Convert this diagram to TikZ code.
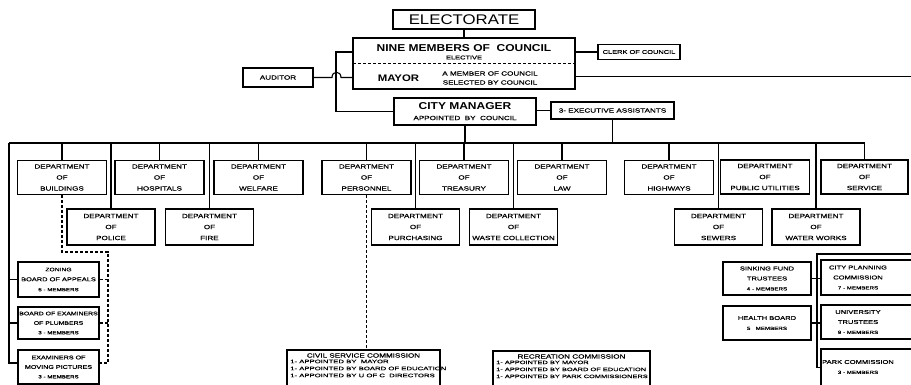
\documentclass[tikz,border=0pt]{standalone}
\usepackage{fontspec}
% hand-lettered look: widened sans capitals
\newfontfamily\lett[FakeStretch=1.35,FakeBold=0.6]{Liberation Sans}
\newfontfamily\lettw[FakeStretch=1.55,FakeBold=0.6]{Liberation Sans}
\newfontfamily\head[FakeStretch=1.2]{Liberation Sans}
\tikzset{
  box/.style={draw, line width=1.3pt, inner sep=0pt, align=center,
              font=\lett\fontsize{6}{11}\selectfont},
  dept/.style={box, minimum width=89pt, minimum height=34pt},
  deptlow/.style={box, minimum width=88pt, minimum height=36pt},
  board/.style={box, minimum width=81pt, font=\lett\fontsize{5.5}{10}\selectfont},
  rboard/.style={box, minimum width=88pt, font=\lett\fontsize{5.6}{10}\selectfont},
  txt/.style={inner sep=0pt, align=center, font=\lett\fontsize{6}{9}\selectfont},
  boldtxt/.style={inner sep=0pt, font=\head\bfseries\fontsize{10}{10}\selectfont},
  listtxt/.style={inner sep=0pt, align=left, anchor=north west,
                  font=\lettw\fontsize{4.8}{7}\selectfont},
  link/.style={line width=1.1pt},
  dlink/.style={line width=1.1pt, dash pattern=on 3pt off 2pt},
}
\begin{document}
\begin{tikzpicture}[x=1pt,y=-1pt]
\clip (0,0) rectangle (911,384);
\fill[white] (0,0) rectangle (911,384);

% ---- top of the chart ----
\node[box, minimum width=142pt, minimum height=19pt,
      font=\head\fontsize{14}{14}\selectfont] (electorate) at (464,19.5) {ELECTORATE};

\node[box, minimum width=222pt, minimum height=51pt] (council) at (464,63.5) {};
\node[boldtxt] (nine) at (464,48) {NINE MEMBERS OF\ \ COUNCIL};
\node[txt, font=\lett\fontsize{5.5}{6}\selectfont] (elective) at (464,57.5) {ELECTIVE};
\node[boldtxt, font=\head\bfseries\fontsize{9.5}{10}\selectfont] (mayor) at (398.5,78.5) {MAYOR};
\node[txt] (mayornote) at (490,78) {A MEMBER OF COUNCIL\\SELECTED BY COUNCIL};
\coordinate (divL) at (353,63.5);
\draw[dlink] (divL) -- (divL -| council.east);

\node[box, minimum width=82pt, minimum height=15pt,
      font=\lett\fontsize{5.5}{6}\selectfont] (clerk) at (639,52) {CLERK OF COUNCIL};
\node[box, minimum width=70pt, minimum height=19pt] (auditor) at (278,77.5) {AUDITOR};

\node[box, minimum width=142pt, minimum height=27pt] (manager) at (465,111.5) {};
\node[boldtxt] (managerhead) at (465,106) {CITY MANAGER};
\node[txt] (managernote) at (465,118) {APPOINTED\ \ BY\ \ COUNCIL};
\node[box, minimum width=123pt, minimum height=17pt] (exec) at (612.5,110.5) {3- EXECUTIVE ASSISTANTS};

\draw[link] (electorate.south) -- (council.north);
\draw[link] (council.east |- clerk.west) -- (clerk.west);
\coordinate (edgeR1) at (920,76.5);
\draw[link] (council.east |- edgeR1) -- (edgeR1);
\coordinate (cv) at (336,52);
\draw[link] (council.west |- cv) -- (cv) |- (manager.west);
\draw[link] (auditor.east) -- (332,77.5) .. controls (332,70.5) and (341,70.5) .. (341,77.5)
            -- (council.west |- auditor.east);
\draw[link] (manager.east |- exec.west) -- (exec.west);

% ---- departments ----
\node[dept] (buildings)  at (62,177.5)    {DEPARTMENT\\OF\\BUILDINGS};
\node[dept] (hospitals)  at (159.5,177.5) {DEPARTMENT\\OF\\HOSPITALS};
\node[dept] (welfare)    at (258.5,177.5) {DEPARTMENT\\OF\\WELFARE};
\node[dept] (personnel)  at (366.5,177.5) {DEPARTMENT\\OF\\PERSONNEL};
\node[dept] (treasury)   at (464,177.5)   {DEPARTMENT\\OF\\TREASURY};
\node[dept] (law)        at (562,177.5)   {DEPARTMENT\\OF\\LAW};
\node[dept] (highways)   at (669,177.5)   {DEPARTMENT\\OF\\HIGHWAYS};
\node[dept] (utilities)  at (765,177)     {DEPARTMENT\\OF\\PUBLIC UTILITIES};
\node[dept, minimum width=87pt] (service) at (864.5,177) {DEPARTMENT\\OF\\SERVICE};

\node[deptlow] (police)     at (111,227)   {DEPARTMENT\\OF\\POLICE};
\node[deptlow] (fire)       at (209.5,227) {DEPARTMENT\\OF\\FIRE};
\node[deptlow] (purchasing) at (415.5,227) {DEPARTMENT\\OF\\PURCHASING};
\node[deptlow] (waste)      at (513.5,227) {DEPARTMENT\\OF\\WASTE COLLECTION};
\node[deptlow] (sewers)     at (718.5,227) {DEPARTMENT\\OF\\SEWERS};
\node[deptlow] (waterworks) at (816,227)   {DEPARTMENT\\OF\\WATER WORKS};

\coordinate (busL) at (9,143);
\draw[link] (manager.south) -- (manager.south |- busL);
\draw[link] (exec.south) -- (exec.south |- busL);
\draw[link] (busL) -| (service.north);
\foreach \d in {buildings,hospitals,welfare,personnel,treasury,law,highways,
                police,fire,purchasing,waste,sewers,waterworks}
  \draw[link] (\d.north) -- (\d.north |- busL);

% ---- boards on the left ----
\node[board, minimum height=35pt] (zoning) at (58.5,279.5)
  {{\fontsize{5}{10}\selectfont ZONING}\\BOARD OF APPEALS\\{\fontsize{4.6}{10}\selectfont 5 - MEMBERS}};
\node[board, minimum height=32pt, font=\lett\fontsize{5.1}{9.5}\selectfont] (plumbers) at (58.5,323)
  {BOARD OF EXAMINERS\\OF PLUMBERS\\{\fontsize{4.6}{9.5}\selectfont 3 - MEMBERS}};
\node[board, minimum height=34pt, font=\lett\fontsize{5.3}{9.5}\selectfont] (moving) at (58.5,367)
  {EXAMINERS OF\\MOVING PICTURES\\{\fontsize{4.6}{9.5}\selectfont 3 - MEMBERS}};
\draw[link] (busL) |- ([yshift=4pt]moving.west);
\draw[link] (zoning.west) -- (zoning.west -| busL);
\draw[link] (plumbers.west) -- (plumbers.west -| busL);

\coordinate (dc) at (108,252);
\draw[dlink] (buildings.south) |- (dc) |- ([yshift=4pt]moving.east);
\draw[dlink] (zoning.east) -- (zoning.east -| dc);
\draw[dlink] (plumbers.east) -- (plumbers.east -| dc);

% ---- commissions at the bottom ----
\node[box, minimum width=153pt, minimum height=36pt] (civil) at (363.5,368) {};
\node[txt] (civilhead) at (363.5,355.5) {CIVIL SERVICE COMMISSION};
\node[listtxt, font=\lettw\fontsize{5}{7}\selectfont] (civillist) at (290,359.5)
  {1- APPOINTED BY\ \ MAYOR\\1- APPOINTED BY BOARD OF EDUCATION\\1- APPOINTED BY U OF C\ \ DIRECTORS};
\draw[dlink] (personnel.south) -- (personnel.south |- civil.north);

\node[box, minimum width=157pt, minimum height=35pt] (recreation) at (571.5,368.5) {};
\node[txt] (recreationhead) at (571.5,356.5) {RECREATION COMMISSION};
\node[listtxt] (recreationlist) at (496,360.5)
  {1- APPOINTED BY MAYOR\\1- APPOINTED BY BOARD OF EDUCATION\\1- APPOINTED BY PARK COMMISSIONERS};

% ---- boards on the right ----
\node[rboard, minimum height=33pt] (sinking) at (767,278.5)
  {SINKING FUND\\TRUSTEES\\{\fontsize{4.6}{10}\selectfont 4 - MEMBERS}};
\node[rboard, minimum height=34pt] (health) at (767,323)
  {HEALTH BOARD\\{\fontsize{4.6}{10}\selectfont 5\ \ \ MEMBERS}};

\node[box, minimum width=179pt, minimum height=35pt] (planning) at (910.5,277.5) {};
\node[txt, font=\lett\fontsize{5.6}{10}\selectfont] (planningtext) at (858,277.5)
  {CITY PLANNING\\COMMISSION\\{\fontsize{4.6}{10}\selectfont 7 - MEMBERS}};
\node[box, minimum width=179pt, minimum height=34pt] (university) at (910.5,322) {};
\node[txt, font=\lett\fontsize{5.6}{10}\selectfont] (universitytext) at (858,322)
  {UNIVERSITY\\TRUSTEES\\{\fontsize{4.6}{10}\selectfont 9 - MEMBERS}};
\node[box, minimum width=179pt, minimum height=37pt] (park) at (910.5,367.5) {};
\node[txt, font=\lett\fontsize{5.6}{10}\selectfont] (parktext) at (858,367)
  {PARK COMMISSION\\{\fontsize{4.6}{10}\selectfont 3 - MEMBERS}};

\coordinate (rv) at (817,254);
\coordinate (edgeR2) at (920,254);
\draw[link] (edgeR2) -- (rv) |- (park.west);
\draw[link] (sinking.east) -- (planning.west |- sinking.east);
\draw[link] (health.east) -- (university.west |- health.east);
\end{tikzpicture}
\end{document}
